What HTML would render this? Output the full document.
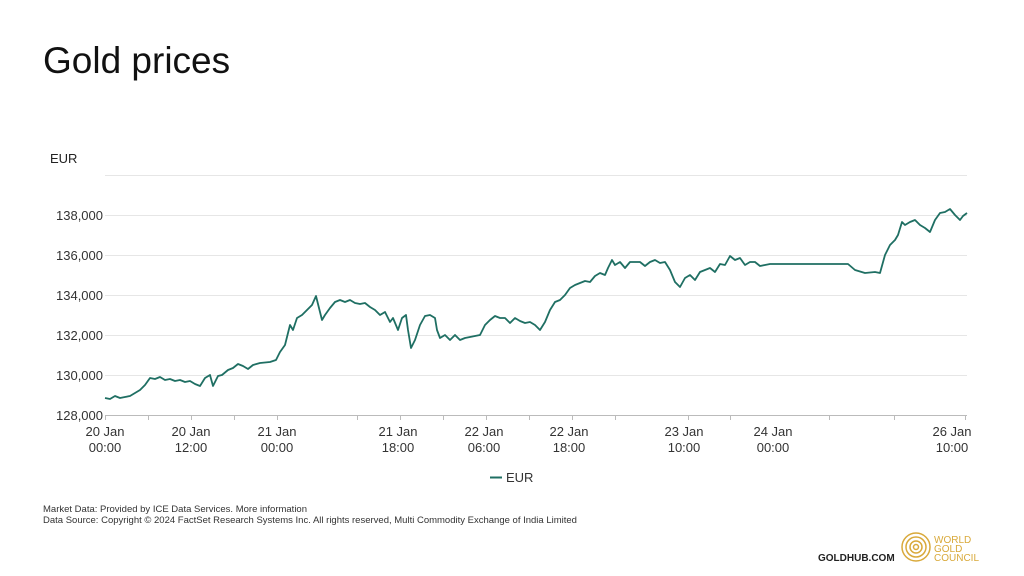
<!DOCTYPE html>
<html><head><meta charset="utf-8"><style>
body{margin:0;width:1024px;height:576px;background:#fff;font-family:"Liberation Sans",sans-serif;overflow:hidden;position:relative}
.t{position:absolute;color:#111}
</style></head><body>
<div class="t" style="left:43px;top:40px;font-size:37px;">Gold prices</div>
<svg width="1024" height="576" style="position:absolute;left:0;top:0" font-family="Liberation Sans, sans-serif">
<text x="50" y="163" font-size="13" fill="#222">EUR</text>
<g stroke="#e6e6e6" stroke-width="1">
<line x1="105" x2="967" y1="175.5" y2="175.5"/><line x1="105" x2="967" y1="215.5" y2="215.5"/>
<line x1="105" x2="967" y1="255.5" y2="255.5"/><line x1="105" x2="967" y1="295.5" y2="295.5"/>
<line x1="105" x2="967" y1="335.5" y2="335.5"/><line x1="105" x2="967" y1="375.5" y2="375.5"/>
</g>
<line x1="105" x2="967" y1="415.5" y2="415.5" stroke="#bbb"/>
<g stroke="#bbb">
<line x1="105.5" x2="105.5" y1="415" y2="420"/><line x1="148.5" x2="148.5" y1="415" y2="420"/><line x1="191.5" x2="191.5" y1="415" y2="420"/><line x1="234.5" x2="234.5" y1="415" y2="420"/><line x1="277.5" x2="277.5" y1="415" y2="420"/><line x1="357.5" x2="357.5" y1="415" y2="420"/><line x1="400.5" x2="400.5" y1="415" y2="420"/><line x1="443.5" x2="443.5" y1="415" y2="420"/><line x1="486.5" x2="486.5" y1="415" y2="420"/><line x1="529.5" x2="529.5" y1="415" y2="420"/><line x1="572.5" x2="572.5" y1="415" y2="420"/><line x1="615.5" x2="615.5" y1="415" y2="420"/><line x1="688.5" x2="688.5" y1="415" y2="420"/><line x1="730.5" x2="730.5" y1="415" y2="420"/><line x1="829.5" x2="829.5" y1="415" y2="420"/><line x1="894.5" x2="894.5" y1="415" y2="420"/><line x1="965.5" x2="965.5" y1="415" y2="420"/>
</g>
<g font-size="13" fill="#333" text-anchor="end">
<text x="103" y="220">138,000</text><text x="103" y="260">136,000</text><text x="103" y="300">134,000</text>
<text x="103" y="340">132,000</text><text x="103" y="380">130,000</text><text x="103" y="420">128,000</text>
</g>
<g font-size="13" fill="#333" text-anchor="middle">
<text x="105" y="436">20 Jan</text><text x="105" y="452">00:00</text>
<text x="191" y="436">20 Jan</text><text x="191" y="452">12:00</text>
<text x="277" y="436">21 Jan</text><text x="277" y="452">00:00</text>
<text x="398" y="436">21 Jan</text><text x="398" y="452">18:00</text>
<text x="484" y="436">22 Jan</text><text x="484" y="452">06:00</text>
<text x="569" y="436">22 Jan</text><text x="569" y="452">18:00</text>
<text x="684" y="436">23 Jan</text><text x="684" y="452">10:00</text>
<text x="773" y="436">24 Jan</text><text x="773" y="452">00:00</text>
<text x="952" y="436">26 Jan</text><text x="952" y="452">10:00</text>
</g>
<polyline fill="none" stroke="#1f6f63" stroke-width="1.8" stroke-linejoin="round" points="105,398 110,399 115,396 120,398 125,397 130,396 135,393 140,390 145,385 150,378 155,379 160,377 165,380 170,379 175,381 180,380 185,382 190,381 195,384 200,386 205,378 210,375 213,386 218,376 222,375 228,370 233,368 238,364 243,366 248,369 253,365 260,363 270,362 276,360 280,352 285,345 290,325 293,330 297,318 302,315 307,310 312,305 316,296 319,308 322,320 325,315 330,308 335,302 340,300 345,302 350,300 355,303 360,304 365,303 370,307 375,310 380,315 385,312 390,322 393,318 398,330 402,318 406,315 408,330 411,348 415,340 420,325 425,316 430,315 435,318 437,330 440,338 445,335 450,340 455,335 460,340 465,338 470,337 475,336 480,335 485,325 490,320 495,316 500,318 505,318 510,323 515,318 520,321 525,323 530,322 535,325 540,330 545,322 550,310 555,302 560,300 565,295 570,288 575,285 580,283 585,281 590,282 595,276 600,273 605,275 608,268 612,260 615,265 620,262 625,268 630,262 635,262 640,262 645,266 650,262 655,260 660,263 665,262 670,270 675,282 680,287 685,278 690,275 695,280 700,272 705,270 710,268 715,272 720,264 725,265 730,256 735,260 740,258 745,265 750,262 755,262 760,266 765,265 770,264 780,264 800,264 820,264 848,264 855,270 865,273 875,272 880,273 885,255 890,245 895,240 898,235 902,222 905,225 910,222 915,220 920,225 925,228 930,232 935,220 940,213 945,212 950,209 955,215 960,220 963,216 967,213"/>
<line x1="490" x2="502" y1="477.5" y2="477.5" stroke="#1f6f63" stroke-width="2"/>
<text x="506" y="482" font-size="13" fill="#333">EUR</text>
<text x="43" y="512" font-size="9.5" fill="#333">Market Data: Provided by ICE Data Services. More information</text>
<text x="43" y="523" font-size="9.5" fill="#333">Data Source: Copyright © 2024 FactSet Research Systems Inc. All rights reserved, Multi Commodity Exchange of India Limited</text>
<text x="818" y="561" font-size="10" font-weight="bold" fill="#222">GOLDHUB.COM</text>
<g fill="none" stroke="#d9a93a" stroke-width="1.5">
<circle cx="916" cy="547" r="14"/><circle cx="916" cy="547" r="10"/><circle cx="916" cy="547" r="6"/><circle cx="916" cy="547" r="2.5"/>
</g>
<g font-size="10" fill="#d9a93a"><text x="934" y="543">WORLD</text><text x="934" y="552">GOLD</text><text x="934" y="561">COUNCIL</text></g>
</svg>
</body></html>
